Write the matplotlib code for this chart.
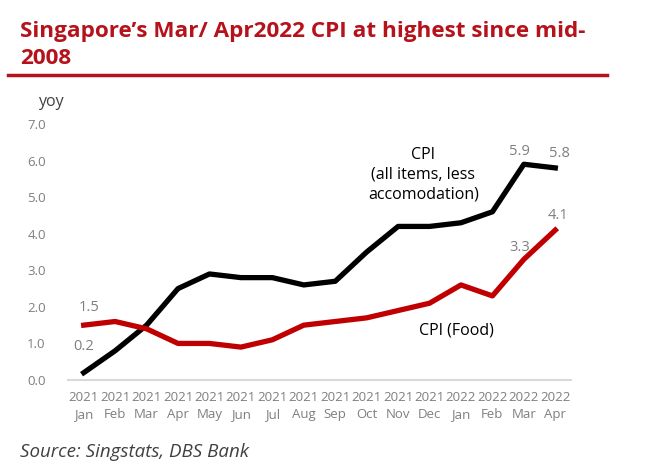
import matplotlib.pyplot as plt
from matplotlib.lines import Line2D

plt.rcParams['font.family'] = ['Open Sans', 'DejaVu Sans']

months = ['Jan', 'Feb', 'Mar', 'Apr', 'May', 'Jun', 'Jul', 'Aug', 'Sep', 'Oct', 'Nov', 'Dec',
          'Jan', 'Feb', 'Mar', 'Apr']
years = ['2021'] * 12 + ['2022'] * 4
cpi_all = [0.2, 0.8, 1.5, 2.5, 2.9, 2.8, 2.8, 2.6, 2.7, 3.5, 4.2, 4.2, 4.3, 4.6, 5.9, 5.8]
cpi_food = [1.5, 1.6, 1.4, 1.0, 1.0, 0.9, 1.1, 1.5, 1.6, 1.7, 1.9, 2.1, 2.6, 2.3, 3.3, 4.1]

red = '#C00000'
grey = '#7f7f7f'

fig = plt.figure(figsize=(6.55, 4.68), dpi=100)
ax = fig.add_axes([0.1038, 0.188, 0.768, 0.547])

x = range(len(months))
ax.plot(x, cpi_all, color='black', lw=3.8, solid_joinstyle='round')
ax.plot(x, cpi_food, color=red, lw=3.8, solid_joinstyle='round')

ax.set_xlim(-0.5, 15.5)
ax.set_ylim(0, 7)
ax.set_yticks(range(8))
ax.set_yticklabels([f'{v:.1f}' for v in range(8)])
ax.set_xticks(list(x))
ax.set_xticklabels([f'{y}\n{m}' for y, m in zip(years, months)], linespacing=1.35)
ax.tick_params(axis='both', length=0, colors=grey, labelsize=9.5)
ax.tick_params(axis='x', pad=8)
ax.tick_params(axis='y', pad=16)
for s in ['top', 'right', 'left']:
    ax.spines[s].set_visible(False)
ax.spines['bottom'].set_color('#d9d9d9')
ax.spines['bottom'].set_linewidth(1.5)

# data labels
ax.annotate('0.2', (0, cpi_all[0]), xytext=(0, 16), textcoords='offset points', ha='center', color=grey, fontsize=10.5)
ax.annotate('1.5', (0, cpi_food[0]), xytext=(4, 10), textcoords='offset points', ha='center', color=grey, fontsize=10.5)
ax.annotate('5.9', (14, cpi_all[14]), xytext=(-3, 7), textcoords='offset points', ha='center', color=grey, fontsize=10.5)
ax.annotate('5.8', (15, cpi_all[15]), xytext=(3, 8), textcoords='offset points', ha='center', color=grey, fontsize=10.5)
ax.annotate('4.1', (15, cpi_food[15]), xytext=(2, 8), textcoords='offset points', ha='center', color=grey, fontsize=10.5)
ax.annotate('3.3', (14, cpi_food[14]), xytext=(-3, 6), textcoords='offset points', ha='center', color=grey, fontsize=10.5)

ax.text(10.8, 5.62, 'CPI\n(all items, less\naccomodation)', ha='center', va='center', fontsize=11.5, linespacing=1.3)
ax.text(11.85, 1.35, 'CPI (Food)', ha='center', va='center', fontsize=11.5)

fig.text(38 / 655, 1 - 102 / 468, 'yoy', color='#404040', fontsize=11.5, va='center')

fig.text(20 / 655, 1 - 31 / 468, 'Singapore\u2019s Mar/ Apr2022 CPI at highest since mid-',
         color='#B5121B', fontsize=16.2, fontweight='bold', va='center')
fig.text(20 / 655, 1 - 59 / 468, '2008',
         color='#B5121B', fontsize=16.2, fontweight='bold', va='center')
fig.add_artist(Line2D([8 / 655, 607 / 655], [1 - 75 / 468, 1 - 75 / 468], color='#B5121B', lw=2.5))

fig.text(20 / 655, 1 - 452 / 468, 'Source: Singstats, DBS Bank', fontstyle='italic', fontsize=13.5,
         color='#404040', va='center')

fig.savefig('out.png', dpi=100)
